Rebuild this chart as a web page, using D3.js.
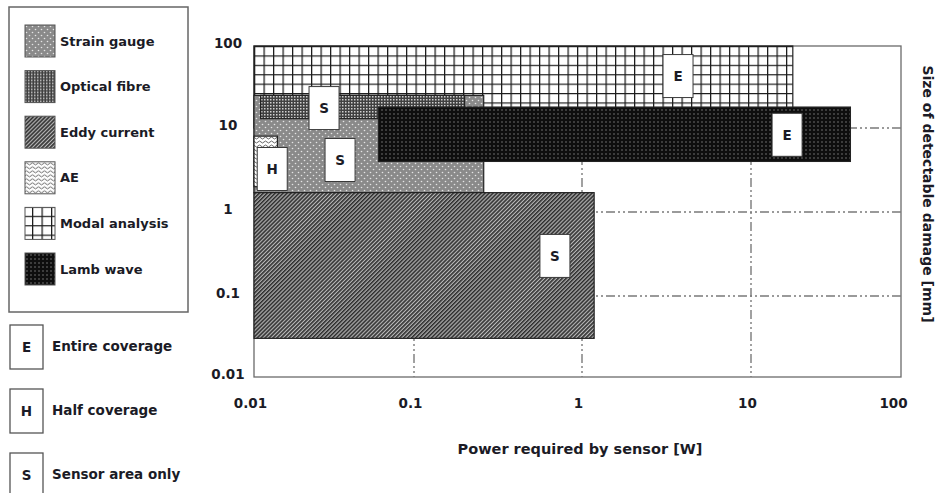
<!DOCTYPE html>
<html>
<head>
<meta charset="utf-8">
<script src="https://cdn.jsdelivr.net/npm/d3@7"></script>
<style>
  body { margin: 0; background: #fff; }
  svg text { font-family: "DejaVu Sans", "Liberation Sans", sans-serif; font-weight: bold; fill: #1b1b26; }
</style>
</head>
<body>
<svg id="chart" width="940" height="493"></svg>
<script>
// Monitoring techniques: power needed vs. size of detectable damage
const techniques   = ["Strain gauge", "Optical fibre", "Eddy current", "AE", "Modal analysis", "Lamb wave"];
const patternIds   = ["pat-strain", "pat-optical", "pat-eddy", "pat-ae", "pat-modal", "pat-lamb"];
const powerMin     = [0.01, 0.011, 0.01, 0.01, 0.01, 0.06];   // W
const powerMax     = [0.26, 0.2, 1.18, 0.014, 19, 46];        // W
const sizeMin      = [1.7, 13, 0.03, 2, 10, 4];               // mm
const sizeMax      = [25, 25, 1.7, 8, 100, 18];               // mm
const drawOrder    = [4, 0, 1, 3, 2, 5];

// Coverage tags placed on each range
const coverage     = ["S", "S", "S", "H", "E", "E"];
const tagPower     = [0.0345, 0.0274, 0.69, 0.013, 3.7, 17.4];
const tagSize      = [4.16, 17.5, 0.3, 3.25, 43, 8.3];

const coverageCodes = ["E", "H", "S"];
const coverageNames = ["Entire coverage", "Half coverage", "Sensor area only"];

const powerTicks      = [0.01, 0.1, 1, 10, 100];
const powerTickLabels = ["0.01", "0.1", "1", "10", "100"];
const sizeTicks       = [0.01, 0.1, 1, 10, 100];
const sizeTickLabels  = ["0.01", "0.1", "1", "10", "100"];
const gridValues      = [0.1, 1, 10];

const svg = d3.select("#chart");

const plot = { left: 254, right: 901, top: 46, bottom: 377 };
const x = d3.scaleLog().domain(powerTicks).range([254, 414, 582, 751, 901]);
const y = d3.scaleLog().domain(sizeTicks).range([377, 296, 212, 128, 46]);

// ---- fill patterns ----
const defs = svg.append("defs");

function pattern(id, w, h, extra) {
  return defs.append("pattern").attr("id", id)
    .attr("patternUnits", "userSpaceOnUse")
    .attr("width", w).attr("height", h)
    .call(p => extra && extra(p));
}

const pStrain = pattern("pat-strain", 6, 6);
pStrain.append("rect").attr("width", 6).attr("height", 6).attr("fill", "#8a8a8a");
pStrain.append("circle").attr("cx", 1.5).attr("cy", 1.5).attr("r", 0.8).attr("fill", "#e4e4e4");
pStrain.append("circle").attr("cx", 4.5).attr("cy", 4.5).attr("r", 0.8).attr("fill", "#e4e4e4");

const pOptical = pattern("pat-optical", 3, 3);
pOptical.append("rect").attr("width", 3).attr("height", 3).attr("fill", "#404040");
pOptical.append("rect").attr("width", 1.5).attr("height", 1.5).attr("fill", "#d0d0d0");

const pEddy = pattern("pat-eddy", 2.8, 2.8, p => p.attr("patternTransform", "rotate(-45)"));
pEddy.append("rect").attr("width", 2.8).attr("height", 2.8).attr("fill", "#b8b8b8");
pEddy.append("rect").attr("width", 2.8).attr("height", 1.6).attr("fill", "#2e2e2e");

const pAE = pattern("pat-ae", 6, 4);
pAE.append("rect").attr("width", 6).attr("height", 4).attr("fill", "#fff");
pAE.append("path").attr("d", "M0,2 Q1.5,0 3,2 T6,2").attr("fill", "none")
  .attr("stroke", "#666").attr("stroke-width", 1);

const pModal = pattern("pat-modal", 9.5, 9.4, p => p.attr("x", plot.left).attr("y", plot.top));
pModal.append("rect").attr("width", 9.5).attr("height", 9.4).attr("fill", "#fff");
pModal.append("path").attr("d", "M0,0.6 H9.5 M0.6,0 V9.4").attr("stroke", "#1a1a1a").attr("stroke-width", 1.3);

const pLamb = pattern("pat-lamb", 4, 4);
pLamb.append("rect").attr("width", 4).attr("height", 4).attr("fill", "#0e0e0e");
pLamb.append("rect").attr("x", 1.3).attr("y", 1.3).attr("width", 1.4).attr("height", 1.4).attr("fill", "#6c6c6c");

// ---- plot frame ----
svg.append("rect")
  .attr("x", plot.left).attr("y", plot.top)
  .attr("width", plot.right - plot.left).attr("height", plot.bottom - plot.top)
  .attr("fill", "#fff").attr("stroke", "#6a6a6a").attr("stroke-width", 1.3);

// ---- dash-dot grid ----
const grid = svg.append("g").attr("stroke", "#7a7a7a").attr("stroke-width", 1.4)
  .attr("stroke-dasharray", "9,3,2,3,2,3");
grid.selectAll("line.v").data(gridValues).join("line").attr("class", "v")
  .attr("x1", d => x(d)).attr("x2", d => x(d))
  .attr("y1", plot.top).attr("y2", plot.bottom);
grid.selectAll("line.h").data(gridValues).join("line").attr("class", "h")
  .attr("x1", plot.left).attr("x2", plot.right)
  .attr("y1", d => y(d)).attr("y2", d => y(d));

// ---- technique ranges ----
svg.append("g").selectAll("rect").data(drawOrder).join("rect")
  .attr("x", i => x(powerMin[i]))
  .attr("y", i => y(sizeMax[i]))
  .attr("width", i => x(powerMax[i]) - x(powerMin[i]))
  .attr("height", i => y(sizeMin[i]) - y(sizeMax[i]))
  .attr("fill", i => `url(#${patternIds[i]})`)
  .attr("stroke", "#222").attr("stroke-width", 1.2);

// ---- coverage tags ----
const tagW = 30, tagH = 43;
const tags = svg.append("g").selectAll("g").data(techniques.map((t, i) => i)).join("g")
  .attr("transform", i => `translate(${x(tagPower[i])},${y(tagSize[i])})`);
tags.append("rect")
  .attr("x", -tagW / 2).attr("y", -tagH / 2).attr("width", tagW).attr("height", tagH)
  .attr("fill", "#fff").attr("stroke", "#3a3a3a").attr("stroke-width", 1);
tags.append("text").attr("text-anchor", "middle").attr("dy", "0.36em")
  .style("font-size", "13.5px").text(i => coverage[i]);

// ---- axes ----
const yAxis = d3.axisLeft(y).tickValues(sizeTicks)
  .tickFormat((d, i) => sizeTickLabels[i]).tickSize(0).tickPadding(0);
svg.append("g").attr("transform", "translate(228,0)").call(yAxis)
  .call(g => g.select(".domain").remove())
  .selectAll("text").attr("text-anchor", "middle").attr("dy", "0.12em")
  .style("font-size", "13.5px");

const xAxis = d3.axisBottom(x).tickValues(powerTicks)
  .tickFormat((d, i) => powerTickLabels[i]).tickSize(0).tickPadding(21);
svg.append("g").attr("transform", `translate(0,${plot.bottom})`).call(xAxis)
  .call(g => g.select(".domain").remove())
  .selectAll("text").attr("dx", (d, i) => i === powerTicks.length - 1 ? -8 : -4)
  .style("font-size", "13.5px");

svg.append("text").attr("x", 580).attr("y", 449).attr("text-anchor", "middle")
  .attr("dy", "0.35em").style("font-size", "14.5px").text("Power required by sensor [W]");

svg.append("text").attr("transform", "translate(928,194) rotate(90)")
  .attr("text-anchor", "middle").attr("dy", "0.35em")
  .style("font-size", "14px").text("Size of detectable damage [mm]");

// ---- technique legend ----
svg.append("rect").attr("x", 9).attr("y", 7).attr("width", 179).attr("height", 305)
  .attr("fill", "#fff").attr("stroke", "#666").attr("stroke-width", 1.5);
const legendRow = d3.scaleLinear().domain([0, 5]).range([25, 253]);
const legend = svg.append("g").selectAll("g").data(techniques.map((t, i) => i)).join("g")
  .attr("transform", i => `translate(25,${legendRow(i)})`);
legend.append("rect").attr("width", 30).attr("height", 32)
  .attr("fill", i => `url(#${patternIds[i]})`)
  .attr("stroke", "#555").attr("stroke-width", 1);
legend.append("text").attr("x", 35).attr("y", 16).attr("dy", "0.35em")
  .style("font-size", "13px").text(i => techniques[i]);

// ---- coverage legend ----
const keyRow = d3.scaleLinear().domain([0, 2]).range([325, 453]);
const keys = svg.append("g").selectAll("g").data(coverageCodes).join("g")
  .attr("transform", (d, i) => `translate(10,${keyRow(i)})`);
keys.append("rect").attr("width", 33).attr("height", 44)
  .attr("fill", "#fff").attr("stroke", "#555").attr("stroke-width", 1.3);
keys.append("text").attr("x", 16.5).attr("y", 22).attr("text-anchor", "middle")
  .attr("dy", "0.36em").style("font-size", "13.5px").text(d => d);
keys.append("text").attr("x", 42).attr("y", 21).attr("dy", "0.35em")
  .style("font-size", "13.5px").text((d, i) => coverageNames[i]);
</script>
</body>
</html>
